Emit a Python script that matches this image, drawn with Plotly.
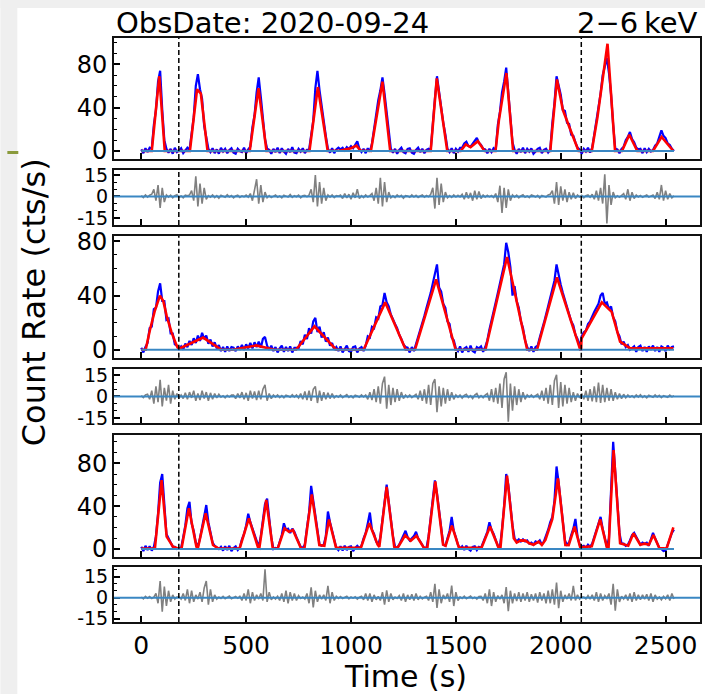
import numpy as np
import plotly.graph_objects as go

BIN = 10  # light-curve bin width in seconds

# ---- band 1: observed rate, residuals and model (cts/s) ----
rate1 = [1.5, -2, 2.5, -1, 3,
         2, 24, 38, 64, 74, 38, 10, 2,
         -1.5, 2, -2.5, 3, -1, 0.5, 2.5, -2, 1, 3,
         1, 17, 31, 60, 71, 57, 48, 23, 13, 2,
         -1, 2.5, -2, 1.5, -2.5, 3, -0.5, 2, -2, 1, 2.5, -1.5, -2.5, 2, 0, -1, 3, -2, 1.5,
         4, 22, 33, 54, 68, 50, 32, 11, 2,
         1, -2.5, 2, -1, 3, -2, 2.5, -0.5, -2.5, 2, -1, 3.5, -1.5, -2, 2, -0.5, 2.5, -2, 1,
         1, 16, 28, 58, 74, 56, 42, 24, 14, 2,
         -1.5, 2.5, -2, 1.5, 3,
         1.5, 3, 0.5, 3.5, 2, 4.5, 2.5, 5.5, 9, 2,
         -1, 2, -2, 2.5, -0.5,
         7, 21, 30, 47, 56, 68, 53, 36, 13, 2,
         -1.5, 2, -2.5, 1, 3, -1, -2, 2, 2.5, -1.5, -2.5, 1, 3, -1, 2, -2, 1, 2,
         1, 27, 48, 69, 54, 44, 26, 15, 2,
         -1, 2.5, -2, 2, -0.5, 3,
         3, 7, 8.5, 4.5, 4, 7, 9, 12, 7.5, 5.5, 2,
         1.5, -2, 2, -1, 2.5,
         1, 24, 36, 54, 64, 77, 54, 33, 8,
         1, -2.5, 2, -1, 3, -2, 2, -0.5, 2.5, -2.5, -0.5, 2, 3, -2, 1, 2, -1.5,
         1, 26, 44, 69, 60, 52, 38, 37, 26, 25, 15, 14, 8, 3,
         1.5, -2.5, 2, -0.5, 3, -1.5,
         3, 16, 26, 42, 53, 70, 77, 86, 72, 52, 24, 2,
         1.5, -2, 2,
         4, 10, 13, 17.5, 11, 8, 3,
         1.5, 2, -2, 2.5, -1, 2, -0.5,
         1, 5, 7, 13, 19, 14, 12, 7, 5.5, 2, 0]

resid1 = [0.5, -0.8, 1, -0.5, 0.8,
          1.5, 5, -3, 8, -8, 6, -4, 1,
          -0.5, 0.8, -1, 0.5, 1.2, -0.6, 0.3, -1, 0.8, 0.4,
          1, 4, -3, 14, -7, 9, -5, 6, -2, 0.5,
          -0.5, 1, -0.8, 0.5, -1.2, 0.8, 0.2, -0.6, 1.2, -0.4, 0.6, -1, 0.3, 0.9, -0.7, 0.4, -0.3, 1, -0.5,
          2, -3, 6, 12, -5, 8, -4, 3, -1,
          0.6, -0.8, 0.4, 1, -0.5, 0.3, -1, 0.8, 0.2, -0.4, 1.3, -0.6, 0.5, -0.2, 0.9, -1, 0.4, 0.7, -0.3,
          1, 5, -4, 15, -7, 10, -5, 6, -3, 1,
          -0.5, 1, -0.8, 0.6, 0.2,
          1, -1.5, 2, -1, 1.5, -2, 2.5, -1, 5, -1.5,
          0.5, -0.8, 1, -0.4, 0.6,
          2, -3, 6, -5, 13, -7, 10, -4, 3, -1,
          0.4, -0.9, 1, -0.3, 0.7, -1.2, 0.5, 0.2, -0.6, 1.1, -0.4, 0.8, -0.7, 0.3, 1, -0.5, 0.6, -0.2,
          1.5, 6, -8.5, 13, -6, 9, -4, 3, -1,
          0.5, -0.7, 1, -0.4, 0.8, -0.3,
          1.5, -2, 3, -1.5, 2.5, -3, 4, -2, 3.5, -1.5, 1,
          -0.5, 0.8, -0.3, 0.6, -0.8,
          2, -4, 7.5, -11.5, 6, -8, 5, -3, 1,
          -0.5, 0.8, -1, 0.4, 1.2, -0.6, 0.3, -0.9, 1, 0.5, -0.4, 0.8, -1.1, 0.6, 0.2, -0.5, 1,
          1.5, 4, -5, 10, -6, 7, -3, 5, -4, 3, -2, 2.5, -1.5, 1,
          -0.4, 0.8, -1, 0.5, 1, -0.6,
          1.5, -2, 4, -3, 6, -5, 15.5, -19, 8, -6, 3, -1,
          0.5, -0.6, 0.8,
          2, -2, 5, -3, 3, -1.5, 1,
          -0.4, 0.7, -0.6, 0.3, 1, -0.5, 0.4,
          1, -1.5, 3, -2, 8, -3, 4, -2, 2, -1, 0.5]

model1_t = [0, 50, 86, 112, 232, 266, 284, 316, 517, 559, 597, 802, 842, 889, 950, 1000,
            1026, 1045, 1095, 1150, 1187, 1380, 1409, 1459, 1523, 1547, 1570, 1605, 1637,
            1689, 1705, 1741, 1773, 1950, 1982, 2010, 2045, 2085, 2148, 2175, 2223, 2259,
            2292, 2327, 2365, 2440, 2481, 2537]
model1_v = [0, 0, 69, 0, 0, 57, 53, 0, 0, 58, 0, 0, 59, 0, 0.5, 2.5,
            5, 0.5, 0, 64, 0, 0, 67, 0, 0, 6, 3.5, 9, 0,
            0, 28, 72, 0, 0, 66, 38, 20, 0, 0, 31, 99, 0,
            0, 15, 0, 0, 13, 0]

# ---- band 2 ----
rate2 = [1.5, -2, 2,
         5, 16, 17, 30, 31, 43, 49, 36, 36, 22, 23, 12, 12, 4, 3, 0.5,
         2.5, 0, 4.5, 2, 6.5, 3.5, 8.5, 5, 10.5, 6.5, 12.5, 8, 10.5, 4.5, 7.5, 2.5, 5.5, 1, 3.5, -1,
         2, -1.5, 2.5, -1, 2,
         1.5, -1, 2.5, 0, 3.5, 0, 4, 1, 5, 1, 5.5, 2, 6, 1.5, 8, 9.5, 3, 0, 3, -1,
         2, -2, 1, 3, -1.5, 2, -1, 2.5, -2, 1.5,
         1.5, 1, 6.5, 4, 11, 8, 16, 12, 21, 23.5, 13, 17, 9, 13, 6, 9, 3, 5, 0, 2,
         -1, 2.5, -2, 1, 3, -1, -1.5, 2, 2.5, -2, 1, 2, -1,
         3, 10, 9, 17, 16, 24, 23, 32, 33, 42, 35, 32, 26, 22, 19, 16, 11, 8, 4, 2,
         1.5, -2, 2, -1,
         4, 10, 14, 20, 25, 31, 36, 42, 49, 57, 63, 46, 43, 34, 31, 21, 19, 9, 7, 1,
         -1, 2.5, -2, 1, 2, -1.5, 3, -1, -2, 2, 1, 2.5, -1.5, 2,
         7, 15, 21, 28, 35, 42, 49, 56, 63, 79, 72, 61, 40, 47, 36, 31, 21, 16, 7, 2,
         -1, 2.5, -1.5, 2,
         3, 9, 14, 20, 26, 32, 38, 44, 51, 63, 54, 48, 42, 37, 32, 27, 21, 18, 11, 8, 2,
         10, 13, 14, 19, 21, 25, 28, 31, 34, 40, 42, 34, 35, 30, 32, 24, 21, 13, 10, 4, 6, 2, 3.5, 0,
         1.5, 2.5, -1.5, 2, 3, -1, 2, -1.5, 2.5, 0.5, 3, -1, 2, -1.5, 2.5, 1.5, -1, 3, 0.5, 2, 2.5]

resid2 = [0.5, -0.8, 1,
          1.5, -2, 4, -5, 7, -4, 11.5, -7, 6, -3, 8, -5, 4, -2, 2, -1,
          1, -1.5, 2.5, -2, 3, -1, 4, -3, 2, -2.5, 4, -1.5, 3, -3, 2.5, -2, 2, -1, 1.5, -0.5,
          0.5, -1, 0.8, -0.4, 0.9,
          1, -1.5, 2, -1, 3, -2, 2.5, -3, 4, -1.5, 3.5, -2.5, 4, -2, 5, 8, -3, 2, -1.5, 1,
          -0.5, 1, -0.8, 0.6, -1, 0.8, 0.3, -0.6, 1.2, -0.4,
          1, -1, 2, -2, 3.5, -2.5, 4, -3, 5, 7, -4.6, 4, -3, 3, -2, 2.5, -1.5, 2, -1, 0.5,
          -0.5, 1, -0.8, 0.5, 1.2, -0.7, 0.4, -1, 0.8, 0.3, -0.5, 1, -0.4,
          1, -2, 3, -2.5, 5, -4, 7, -5, 9, 13.8, -8.5, 8, -6, 6, -4, 5, -3, 3, -1.5, 1,
          -0.6, 1, -0.8, 0.5,
          1.5, -2, 4, -3, 5, -5, 8, -6, 9, 12, -11, 7, -7, 6, -5, 5, -3, 3, -2, 1,
          -0.6, 1, -1.2, 0.7, 1.5, -0.8, 0.5, -1.5, 1, 2, -1, 0.6, -0.9, 1,
          2, -3, 5, -4, 6, -5, 9, -8, 12, 16.8, -17.7, 9, -10, 7, -6, 5, -4, 3, -2, 1,
          -0.5, 1, -0.7, 0.6,
          1.5, -2, 4, -3, 6, -5, 8, -6, 11, 15, -8, 10, -7, 8, -5, 6, -4, 3, -3, 2, -1,
          2, -2, 4, -3, 5, -3.5, 7, -4, 9.7, -4.6, 8, -4, 6, -3, 5, -3, 3, -2, 2, -1.5, 1.5, -1, 1, -0.5,
          0.5, -0.8, 1, -0.5, 1.2, -0.7, 0.4, -1, 0.8, 0.3, -0.6, 1, -0.4, 0.7, -0.9, 0.5, 0.2, -0.6, 0.9, -0.3, 0.5]

model2_t = [0, 21, 41, 65, 89, 105, 121, 144, 168, 176, 190, 295, 382, 437, 548, 635, 738,
            826, 929, 1060, 1163, 1261, 1305, 1406, 1499, 1641, 1744, 1840, 1887, 1982,
            2093, 2097, 2099, 2196, 2243, 2283, 2331, 2537]
model2_v = [0, 0, 14.4, 29, 40, 36, 25, 13, 3.4, 1, 1.5, 9, 0, 0, 3.2, 0, 0,
            17.3, 0, 0, 35, 0, 0, 52, 0, 0, 68.5, 0, 0, 53.4,
            0, 0, 8.3, 35, 28, 6, 1, 1]

# ---- band 3 ----
rate3 = [2, -2, 3, -1, 2.5, -1.5, 2,
         12, 33, 62, 70, 40, 14, 10, 6, 2, 2, 0,
         0.5, 1, 11, 22, 38, 44, 24, 17, 6, 2, 10, 20, 30, 41, 25, 15, 6, 3, 1, 0,
         2, -1.5, 2.5, -1, 3, -2, 1, 2.5, -1,
         1.5, 9, 14, 22, 33, 25, 19, 12, 6, 2, 12, 26, 42, 47, 27, 11,
         0, 1, 0.5, 7, 13, 24, 18, 19, 15, 19, 16, 11, 7, 2,
         1, 4, 20, 34, 59, 45, 30, 16, 4, 3, 4, 12, 35, 25, 16, 9, 1, -1, 2.5, -1.5, 3, -1, 2, 2.5, -2, 1, 3, 1,
         3, 10, 15, 24, 34, 18, 14, 7, 4, 11, 28, 45, 60, 44, 27, 12, 2,
         1, 4, 8, 12, 17, 11, 8, 10, 12, 16, 10, 7, 4, 0.5,
         1, 12, 29, 46, 64, 52, 36, 19, 4, 3, 10, 17, 30, 17, 11, 4, 0.5,
         2.5, -1, 3, 0, -1.5, 2, 2.5, -1, 2,
         1, 6, 11, 16, 25, 18, 14, 9, 3, 2,
         18, 40, 70, 60, 41, 22, 10, 7, 9, 7, 9, 7, 8, 5, 6, 4, 7, 6, 8, 4, 7, 12, 18, 25, 30, 45, 77, 62, 44, 26,
         8, 4, 6, 13, 19, 28, 12, 4, 2,
         3, 1, 4, 2, 5, 11, 19, 24, 30, 19, 10, 2,
         10, 50, 100, 72, 44, 15, 5,
         5, 3, 4, 8, 13, 15, 11, 7, 4, 6, 5, 6, 3, 9, 15, 10, 6, 1, 0, -2, -1.5, 4, 10, 15, 18]

resid3 = [0.5, -0.8, 1, -0.4, 0.8, -0.6, 0.4,
          3, -4, 12, -10, 8, -6, 5, -3, 2, -1, 0.5,
          0.5, -1, 3, -2, 6, -4, 5, -3, 2, -1, 4, -3, 7, 12, -5, 6, -3, 2, -1, 0.5,
          -0.5, 1, -0.7, 0.4, 1.1, -0.8, 0.3, 0.9, -0.4,
          1, -2, 3, -2, 6, -4, 4, -2, 2, -1, 3, -2, 20.5, -3, 4, -1.5,
          0.5, -1, 1, -2, 3, -3, 5, -4, 4, -2, 3, -2, 1.5, -0.5,
          0.5, -1, 3, -4, 7.4, -7, 5, -3, 2, -1, 2, -2, 8.5, -4, 4, -2, 1, -0.5, 0.8, -0.6, 0.3, 1, -0.8, 0.5, -0.3, 0.7, -1, 0.4,
          1, -1.5, 3, -2, 3, -3, 2, -1.5, 1, -2, 4, -5, 5.3, -3, 3, -1.5, 0.5,
          -0.5, 1.5, -2, 3, -3, 2, -1.5, 2.5, -2, 3, -1.5, 1, -0.8, 0.4,
          1, -2, 4, -3, 10, -7.4, 6, -4, 2, -1, 3, -3, 8.7, -6, 4, -2, 0.5,
          -0.5, 1, -0.8, 0.5, 1.2, -0.6, 0.3, -1, 0.8,
          1, -2, 3, -4, 6, -6, 4, -3, 1.5, -1,
          2, -4, 7.6, -9.7, 5, -4, 3, -2.5, 4, -3, 3, -2, 4, -3, 2.5, -2, 3, -3.5, 4, -2,
          3, -4, 5, -4, 6, -5, 10.8, -7.6, 5, -3, 2, -1, 3, -2, 8.5, -2, 2, -1, 0.5,
          0.5, -1, 1.5, -1, 2, -2, 4, -3, 3, -2, 1.5, -0.5,
          3, -5, 10, -9.4, 6, -3, 1,
          -1, 2, -2, 3, -3, 4, -2, 2, -1.5, 2, -1, 2.5, -2, 3, -3, 2, -1, 0.5, -1.5, 1, -0.8, 2, -2, 3, -1]

model3_t = [0, 65, 97, 121, 152, 176, 192, 227, 263, 270, 307, 342, 367, 469, 513, 556, 563,
            596, 627, 651, 683, 704, 723, 762, 778, 813, 849, 862, 873, 895, 929, 1047, 1087,
            1127, 1135, 1170, 1206, 1222, 1258, 1285, 1312, 1348, 1364, 1402, 1439, 1451, 1481,
            1515, 1622, 1663, 1702, 1713, 1744, 1776, 1790, 1810, 1832, 1850, 1870, 1895, 1910,
            1927, 1960, 1987, 2022, 2038, 2066, 2093, 2136, 2148, 2188, 2220, 2228, 2252, 2283,
            2322, 2347, 2379, 2400, 2420, 2442, 2470, 2505, 2537]
model3_v = [0.5, 0.5, 64.4, 11.5, 2, 0.5, 0.5, 38, 2, 1, 33.3, 3.7, 0.5, 0.5, 28.6, 2, 1,
            45.8, 0.5, 0.5, 19.3, 16, 17.7, 0.5, 0.5, 51, 3.7, 3, 3, 27.5, 1, 1, 24.2,
            4, 2, 58, 2, 1, 12.8, 7.8, 12.4, 1, 1, 63, 4, 3, 21.8,
            1, 1, 21, 2, 2, 68.5, 10, 6, 8, 7.8, 5.3, 4, 6.8, 3.7,
            8.4, 28, 66, 3.7, 3.5, 20.9, 1.5, 2.5, 2.5, 27.7, 1.5, 1.5, 92.4, 5.3,
            3, 14.6, 4, 5, 4, 13, 1, 0.5, 20.2]

boundaries = [179, 2098]          # vertical dashed markers (s)
x_ticks = [0, 500, 1000, 1500, 2000, 2500]
rate_ticks = [0, 40, 80]
resid_ticks = [-15, 0, 15]
resid_labels = ["-15", "0", "15"]

FONT = "DejaVu Sans"
BLUE, RED, GRAY, ZERO = "#0000ff", "#ff0000", "#808080", "#3a87c3"

# panel layout, top to bottom: (kind, values, model_t, model_v, y-range, domain)
panels = [
    ("rate", rate1, model1_t, model1_v, [-7.4, 104.3], [0.7928, 1.0]),
    ("resid", resid1, None, None, [-20.0, 18.5], [0.6798, 0.7740]),
    ("rate", rate2, model2_t, model2_v, [-5.85, 84.0], [0.4526, 0.6610]),
    ("resid", resid2, None, None, [-18.5, 19.1], [0.3408, 0.4332]),
    ("rate", rate3, model3_t, model3_v, [-7.2, 106.4], [0.1118, 0.3202]),
    ("resid", resid3, None, None, [-17.5, 22.3], [0.0, 0.0947]),
]

fig = go.Figure()
shapes = []
layout = {}
xtickfont = dict(family=FONT, size=25, color="black")
rate_font = dict(family=FONT, size=24, color="black")
resid_font = dict(family=FONT, size=19, color="black")

for i, (kind, vals, mt, mv, yr, dom) in enumerate(panels, start=1):
    sfx = "" if i == 1 else str(i)
    xa, ya = "x" + sfx, "y" + sfx
    t = BIN * np.arange(len(vals))
    if kind == "rate":
        fig.add_trace(go.Scatter(x=t, y=vals, mode="lines", xaxis=xa, yaxis=ya,
                                 line=dict(color=BLUE, width=2.2)))
        fig.add_trace(go.Scatter(x=mt, y=mv, mode="lines", xaxis=xa, yaxis=ya,
                                 line=dict(color=RED, width=2.6)))
        fig.add_trace(go.Scatter(x=[t[0], t[-1]], y=[0, 0], mode="lines", xaxis=xa, yaxis=ya,
                                 line=dict(color=ZERO, width=2.2)))
        yaxis = dict(tickmode="array", tickvals=rate_ticks, tickfont=rate_font,
                     minor=dict(ticks="inside", ticklen=3, tickwidth=1, tickcolor="black",
                                tickmode="linear", tick0=0, dtick=10))
    else:
        fig.add_trace(go.Scatter(x=t, y=vals, mode="lines", xaxis=xa, yaxis=ya,
                                 line=dict(color=GRAY, width=1.6)))
        shapes.append(dict(type="line", xref=xa + " domain", yref=ya, x0=0, x1=1, y0=0, y1=0,
                           line=dict(color=ZERO, width=2), layer="above"))
        yaxis = dict(tickmode="array", tickvals=resid_ticks, ticktext=resid_labels,
                     tickfont=resid_font,
                     minor=dict(ticks="inside", ticklen=3, tickwidth=1, tickcolor="black",
                                tickmode="linear", tick0=0, dtick=5))
    for b in boundaries:
        shapes.append(dict(type="line", xref=xa, yref=ya + " domain", x0=b, x1=b, y0=0, y1=1,
                           line=dict(color="black", width=1.5, dash="5px,3px"), layer="above"))
    yaxis.update(domain=dom, range=yr, anchor=xa, ticks="inside", ticklen=6, tickwidth=1.5,
                 tickcolor="black", showline=True, mirror=True, linecolor="#111111",
                 linewidth=2, showgrid=False, zeroline=False)
    xaxis = dict(domain=[0, 1], range=[-130, 2664], anchor=ya, tickmode="array",
                 tickvals=x_ticks, ticks="inside", ticklen=6, tickwidth=1.5, tickcolor="black",
                 showline=True, mirror=True, linecolor="#111111", linewidth=2,
                 showgrid=False, zeroline=False, tickfont=xtickfont,
                 showticklabels=(i == len(panels)))
    layout["xaxis" + sfx] = xaxis
    layout["yaxis" + sfx] = yaxis

# light page border strips and small mark at the left edge
shapes += [
    dict(type="rect", xref="paper", yref="paper", x0=-0.1939, x1=-0.165, y0=-0.1233, y1=1.065,
         fillcolor="#efefef", line=dict(width=0), layer="below"),
    dict(type="rect", xref="paper", yref="paper", x0=-0.1939, x1=1.0085, y0=1.0514, y1=1.065,
         fillcolor="#efefef", line=dict(width=0), layer="below"),
    dict(type="rect", xref="paper", yref="paper", x0=-0.182, x1=-0.1633, y0=0.8014, y1=0.8065,
         fillcolor="#8a9a3c", line=dict(width=0), layer="above"),
]

annotations = [
    dict(text="ObsDate: 2020-09-24", xref="paper", yref="paper", x=0, y=1.0257,
         xanchor="left", yanchor="middle", showarrow=False,
         font=dict(family=FONT, size=29, color="black")),
    dict(text="2\u22126\u2009keV", xref="paper", yref="paper", x=1, y=1.0257,
         xanchor="right", yanchor="middle", showarrow=False,
         font=dict(family=FONT, size=29, color="black")),
    dict(text="Count Rate (cts/s)", xref="paper", yref="paper", x=-0.136, y=0.548,
         xanchor="center", yanchor="middle", textangle=-90, showarrow=False,
         font=dict(family=FONT, size=32, color="black")),
    dict(text="Time (s)", xref="paper", yref="paper", x=0.4966, y=-0.0925,
         xanchor="center", yanchor="middle", showarrow=False,
         font=dict(family=FONT, size=30, color="black")),
]

fig.update_layout(
    width=707, height=694, autosize=False,
    margin=dict(l=114, r=5, t=38, b=72, pad=0),
    paper_bgcolor="white", plot_bgcolor="white",
    showlegend=False, hovermode=False,
    shapes=shapes, annotations=annotations,
    font=dict(family=FONT, color="black"),
    **layout,
)

fig.write_html("out.html", config={"displayModeBar": False})
